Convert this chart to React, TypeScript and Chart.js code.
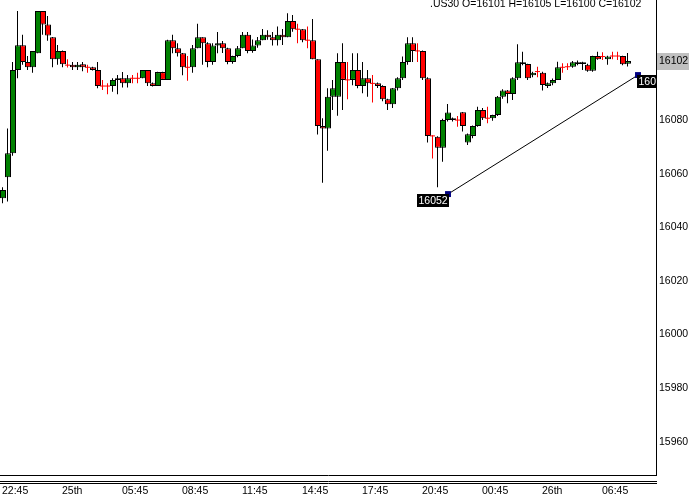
import React, { useEffect, useRef } from "react";
import { Chart, registerables } from "chart.js";

Chart.register(...registerables);

// ---- data (15-minute candles, .US30) ----
const opens = [
  16050.8, 16058.7, 16067.6, 16098.7, 16107.9, 16101.7, 16099.7, 16104.9, 16120.7, 16115.7,
  16110.9, 16102.7, 16105.8, 16100.5, 16100.6, 16099.7, 16100.8, 16099.7, 16099.7, 16098.7,
  16092.7, 16092.7, 16092.7, 16095.0, 16095.6, 16093.7, 16095.6, 16095.6, 16095.6, 16098.7,
  16093.7, 16092.7, 16097.9, 16095.0, 16109.8, 16106.8, 16104.9, 16099.7, 16099.7, 16106.8,
  16110.9, 16108.7, 16101.7, 16107.8, 16108.7, 16106.8, 16101.7, 16103.9, 16106.8, 16111.8,
  16105.8, 16107.8, 16109.8, 16111.8, 16110.9, 16109.8, 16111.8, 16110.9, 16117.0, 16113.9,
  16113.9, 16109.8, 16109.8, 16102.7, 16077.8, 16076.9, 16088.7, 16088.7, 16101.7, 16095.0,
  16095.0, 16098.7, 16092.7, 16095.6, 16093.7, 16093.7, 16092.7, 16087.8, 16085.9, 16091.9,
  16095.6, 16101.7, 16108.7, 16105.8, 16105.8, 16095.6, 16074.1, 16073.8, 16069.7, 16080.0,
  16080.7, 16080.0, 16082.9, 16071.6, 16074.1, 16077.8, 16083.8, 16080.7, 16080.7, 16081.9,
  16088.7, 16091.0, 16089.7, 16095.6, 16101.6, 16100.9, 16096.7, 16098.1, 16097.7, 16092.7,
  16093.7, 16095.0, 16099.7, 16099.9, 16099.9, 16101.6, 16101.6, 16100.6, 16098.4, 16103.9,
  16103.7, 16102.7, 16103.9, 16103.9, 16103.9, 16101.0,
];
const highs = [
  16054.9, 16076.9, 16101.7, 16120.7, 16111.8, 16103.9, 16105.8, 16120.7, 16120.7, 16118.8,
  16111.0, 16108.0, 16106.0, 16102.7, 16101.7, 16101.7, 16101.7, 16100.6, 16099.9, 16101.7,
  16095.0, 16093.7, 16095.6, 16096.8, 16097.9, 16096.8, 16096.8, 16097.7, 16098.7, 16098.7,
  16094.0, 16098.0, 16098.0, 16110.0, 16111.8, 16108.7, 16105.0, 16103.9, 16108.0, 16115.9,
  16110.9, 16109.0, 16108.7, 16112.9, 16109.5, 16107.0, 16104.0, 16107.6, 16112.9, 16112.9,
  16110.1, 16111.0, 16114.0, 16113.5, 16112.9, 16114.9, 16114.0, 16119.9, 16119.2, 16115.9,
  16114.0, 16114.9, 16117.7, 16102.7, 16080.7, 16091.9, 16095.0, 16104.9, 16108.7, 16101.7,
  16104.9, 16104.9, 16101.7, 16098.7, 16096.8, 16094.0, 16093.0, 16088.0, 16092.0, 16096.0,
  16103.7, 16110.9, 16110.9, 16108.7, 16106.0, 16096.0, 16074.3, 16074.0, 16080.5, 16086.0,
  16081.0, 16081.5, 16083.0, 16075.0, 16078.0, 16085.0, 16084.5, 16085.0, 16082.0, 16089.0,
  16091.5, 16091.2, 16096.0, 16108.3, 16105.5, 16101.0, 16098.0, 16099.9, 16098.0, 16094.0,
  16095.5, 16101.8, 16101.2, 16101.2, 16102.0, 16102.2, 16101.8, 16101.0, 16104.0, 16105.5,
  16105.3, 16104.0, 16105.5, 16105.5, 16104.0, 16105.0,
];
const lows = [
  16049.0, 16049.6, 16066.7, 16095.6, 16100.6, 16098.7, 16097.7, 16104.9, 16111.8, 16109.6,
  16099.7, 16100.6, 16099.7, 16099.6, 16098.7, 16098.7, 16098.2, 16097.7, 16098.5, 16091.9,
  16091.2, 16089.6, 16090.6, 16089.6, 16092.2, 16092.2, 16093.7, 16093.7, 16095.6, 16092.7,
  16092.5, 16092.7, 16095.0, 16095.0, 16104.9, 16103.7, 16096.7, 16094.7, 16097.7, 16106.8,
  16100.6, 16099.7, 16100.6, 16104.9, 16105.0, 16100.8, 16101.0, 16103.4, 16106.8, 16104.9,
  16105.1, 16107.0, 16109.8, 16110.0, 16107.8, 16107.8, 16108.0, 16110.9, 16113.0, 16108.7,
  16109.0, 16106.8, 16102.7, 16074.6, 16056.6, 16068.6, 16083.8, 16081.6, 16083.8, 16087.8,
  16093.0, 16091.9, 16090.0, 16088.7, 16086.6, 16092.0, 16087.0, 16083.8, 16084.5, 16091.0,
  16095.0, 16100.6, 16101.7, 16101.7, 16095.0, 16071.6, 16065.7, 16054.9, 16064.5, 16079.5,
  16079.5, 16077.5, 16075.7, 16070.7, 16073.2, 16077.5, 16080.0, 16078.8, 16079.8, 16081.5,
  16088.0, 16086.3, 16087.5, 16095.0, 16100.5, 16095.0, 16096.0, 16096.0, 16091.0, 16092.0,
  16093.0, 16095.0, 16097.7, 16098.7, 16099.5, 16100.5, 16098.7, 16098.0, 16098.0, 16102.5,
  16102.4, 16100.6, 16102.7, 16102.4, 16100.5, 16100.0,
];
const closes = [
  16053.9, 16067.6, 16098.7, 16107.9, 16101.7, 16099.7, 16105.8, 16120.7, 16115.7, 16111.6,
  16102.7, 16105.8, 16100.8, 16100.5, 16099.7, 16100.6, 16099.7, 16099.7, 16098.7, 16092.7,
  16092.7, 16092.7, 16095.0, 16095.6, 16093.7, 16095.6, 16095.6, 16095.6, 16098.7, 16093.7,
  16092.7, 16097.9, 16095.0, 16109.8, 16106.8, 16104.9, 16099.7, 16099.7, 16106.8, 16110.9,
  16108.7, 16101.7, 16107.8, 16108.7, 16106.8, 16101.7, 16103.9, 16106.8, 16111.8, 16105.8,
  16107.8, 16109.8, 16111.8, 16110.9, 16109.8, 16111.8, 16110.9, 16117.0, 16113.9, 16113.9,
  16109.8, 16109.8, 16102.7, 16077.8, 16076.9, 16088.7, 16091.9, 16101.7, 16095.0, 16095.0,
  16098.7, 16092.7, 16095.6, 16093.7, 16093.7, 16092.7, 16087.8, 16085.9, 16091.9, 16095.6,
  16101.7, 16108.7, 16105.8, 16105.8, 16095.6, 16074.1, 16074.1, 16069.7, 16080.0, 16082.8,
  16080.0, 16080.0, 16077.8, 16074.7, 16077.8, 16083.8, 16080.7, 16080.7, 16081.9, 16088.7,
  16091.0, 16089.7, 16095.6, 16101.6, 16100.9, 16095.6, 16097.7, 16098.1, 16093.1, 16093.7,
  16095.0, 16099.7, 16099.7, 16099.9, 16101.6, 16100.9, 16100.9, 16098.4, 16103.9, 16102.7,
  16103.7, 16103.7, 16103.9, 16103.9, 16100.8, 16102.0,
];

const xTickIndex = [0, 12, 24, 36, 48, 60, 72, 84, 96, 108, 120];
const xTickLabels = ["22:45", "25th", "05:45", "08:45", "11:45", "14:45", "17:45", "20:45", "00:45", "26th", "06:45"];
const yTickValues = [15960, 15980, 16000, 16020, 16040, 16060, 16080, 16100];

const trendIndex = [89, 127];
const trendPrice = [16052.4, 16096.8];

const symbol = ".US30";

const FONT = "'Liberation Sans', Arial, sans-serif";
const FS = 10.5;

const noPad = (s: any) => {
  s.paddingTop = 0;
  s.paddingBottom = 0;
  s.paddingLeft = 0;
  s.paddingRight = 0;
};

export default function App() {
  const ref = useRef<HTMLCanvasElement>(null);

  useEffect(() => {
    document.body.style.margin = "0";
    const canvas = ref.current;
    if (!canvas) return;
    const n = opens.length;
    const idx = Array.from({ length: n }, (_, i) => i);
    const isDoji = (i: number) => opens[i] === closes[i];

    const overlay = {
      id: "overlay",
      afterDraw(chart: any) {
        const ctx = chart.ctx as CanvasRenderingContext2D;
        const area = chart.chartArea;
        const xs = chart.scales.x;
        const ys = chart.scales.y;
        ctx.save();
        // frame lines
        ctx.strokeStyle = "#000";
        ctx.lineWidth = 1;
        ctx.beginPath();
        ctx.moveTo(area.right + 0.5, 0);
        ctx.lineTo(area.right + 0.5, area.bottom + 1);
        ctx.moveTo(0, area.bottom + 0.5);
        ctx.lineTo(area.right + 1, area.bottom + 0.5);
        ctx.moveTo(0, area.bottom + 6.5);
        ctx.lineTo(area.right + 1, area.bottom + 6.5);
        ctx.moveTo(0, area.bottom + 8.5);
        ctx.lineTo(area.right + 1, area.bottom + 8.5);
        ctx.stroke();

        ctx.font = `${FS}px ${FONT}`;
        ctx.textBaseline = "middle";
        ctx.textAlign = "left";

        // trend line labels (clipped to plot)
        ctx.save();
        ctx.beginPath();
        ctx.rect(area.left, area.top, area.right - area.left, area.bottom - area.top);
        ctx.clip();
        const t0x = xs.getPixelForValue(trendIndex[0]);
        const t0y = ys.getPixelForValue(trendPrice[0]);
        const s0 = String(Math.round(trendPrice[0]));
        const w0 = ctx.measureText(s0).width + 3;
        ctx.fillStyle = "#000";
        ctx.fillRect(Math.round(t0x + 1 - w0), Math.round(t0y), Math.round(w0), 13);
        ctx.fillStyle = "#fff";
        ctx.fillText(s0, Math.round(t0x + 1 - w0) + 1.5, Math.round(t0y) + 7);
        const t1x = xs.getPixelForValue(trendIndex[1]);
        const t1y = ys.getPixelForValue(trendPrice[1]);
        const s1 = String(Math.round(trendPrice[1]));
        const w1 = ctx.measureText(s1).width + 3;
        ctx.fillStyle = "#000";
        ctx.fillRect(Math.round(t1x - 1), Math.round(t1y), Math.round(w1), 13);
        ctx.fillStyle = "#fff";
        ctx.fillText(s1, Math.round(t1x - 1) + 1.5, Math.round(t1y) + 7);
        ctx.restore();

        // last price label on axis
        const last = closes[n - 1];
        const ly = ys.getPixelForValue(last);
        ctx.fillStyle = "#c0c0c0";
        ctx.fillRect(area.right + 1, Math.round(ly) - 8, 32, 17);
        ctx.fillStyle = "#000";
        ctx.fillText(String(Math.round(last)), area.right + 3, Math.round(ly) + 0.5);

        // header
        ctx.textBaseline = "alphabetic";
        const hdr = `${symbol} O=${Math.round(opens[n - 1])} H=${Math.round(highs[n - 1])} L=${Math.round(lows[n - 1])} C=${Math.round(closes[n - 1])}`;
        ctx.fillText(hdr, 430, 6.5);
        ctx.restore();
      },
    };

    const chart = new Chart(canvas, {
      type: "bar",
      data: {
        datasets: [
          {
            type: "bar",
            label: "wick",
            data: idx.map((i) => ({ x: i, y: [lows[i], highs[i]] })) as any,
            xAxisID: "xw",
            yAxisID: "y",
            backgroundColor: idx.map((i) => (isDoji(i) ? "#ff0000" : "#000000")),
            borderWidth: 0,
            barThickness: 1,
            grouped: false,
            inflateAmount: 0,
            order: 4,
          } as any,
          {
            type: "bar",
            label: "body",
            data: idx.map((i) => ({ x: i, y: [opens[i], closes[i]] })) as any,
            xAxisID: "x",
            yAxisID: "y",
            backgroundColor: idx.map((i) => (closes[i] > opens[i] ? "#008000" : "#ff0000")),
            borderColor: "#000000",
            borderWidth: idx.map((i) => (isDoji(i) ? 0 : 1)),
            borderSkipped: false,
            barThickness: 6,
            grouped: false,
            inflateAmount: 0,
            order: 3,
          } as any,
          {
            type: "scatter",
            label: "doji",
            data: idx.filter(isDoji).map((i) => ({ x: i, y: opens[i] })),
            xAxisID: "xw",
            yAxisID: "y",
            pointStyle: "line",
            pointRadius: 2.5,
            borderColor: "#ff0000",
            borderWidth: 1,
            order: 2,
          } as any,
          {
            type: "line",
            label: "trend",
            data: trendIndex.map((x, k) => ({ x, y: trendPrice[k] })),
            xAxisID: "x",
            yAxisID: "y",
            borderColor: "#000000",
            borderWidth: 1,
            pointStyle: "rect",
            pointRadius: 4.2,
            pointBackgroundColor: "#000080",
            pointBorderColor: "#000080",
            pointBorderWidth: 0,
            tension: 0,
            order: 1,
          } as any,
        ],
      },
      options: {
        responsive: false,
        animation: false,
        devicePixelRatio: 1,
        events: [],
        layout: { padding: 0, autoPadding: false },
        plugins: { legend: { display: false }, tooltip: { enabled: false }, title: { display: false } },
        scales: {
          x: {
            type: "linear",
            position: "bottom",
            min: -0.6,
            max: 130.6,
            offset: false,
            bounds: "data",
            grid: { display: false, drawTicks: false },
            border: { display: false },
            afterBuildTicks: (s: any) => {
              s.ticks = xTickIndex.map((v) => ({ value: v }));
            },
            afterFit: (s: any) => {
              s.height = 21;
              noPad(s);
            },
            ticks: {
              autoSkip: false,
              maxRotation: 0,
              minRotation: 0,
              align: "start",
              padding: 10,
              labelOffset: -1,
              color: "#000",
              font: { family: FONT, size: FS },
              callback: (_v: any, i: number) => xTickLabels[i],
            },
          },
          xw: {
            type: "linear",
            display: false,
            min: -0.5,
            max: 130.7,
            offset: false,
            bounds: "data",
          },
          y: {
            type: "linear",
            position: "right",
            min: 15947.6,
            max: 16124.8,
            beginAtZero: false,
            bounds: "data",
            grid: { display: false, drawTicks: false },
            border: { display: false },
            afterBuildTicks: (s: any) => {
              s.ticks = yTickValues.map((v) => ({ value: v }));
            },
            afterFit: (s: any) => {
              s.width = 37;
              noPad(s);
            },
            ticks: {
              padding: 3,
              color: "#000",
              font: { family: FONT, size: FS },
              callback: (v: any) => String(v),
            },
          },
        },
      } as any,
      plugins: [overlay],
    });
    return () => chart.destroy();
  }, []);

  return (
    <canvas
      ref={ref}
      width={693}
      height={496}
      style={{ display: "block", width: 693, height: 496 }}
    />
  );
}
